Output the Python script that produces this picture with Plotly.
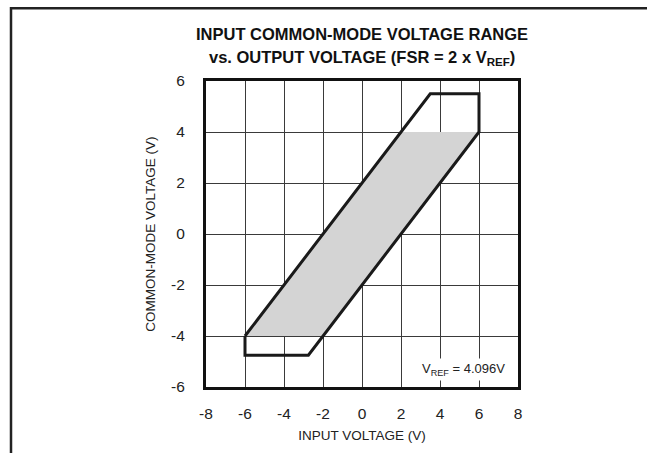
import plotly.graph_objects as go

# Outer boundary of the allowed common-mode range (closed polygon)
outline_x = [-6, 3.5, 6, 6, -2.75, -6, -6]
outline_y = [-4, 5.5, 5.5, 4, -4.75, -4.75, -4]

# Shaded region: usable range for FSR = 2 x VREF
fill_x = [-6, 2, 6, -2, -6]
fill_y = [-4, 4, 4, -4, -4]

x_ticks = [-8, -6, -4, -2, 0, 2, 4, 6, 8]
y_ticks = [-6, -4, -2, 0, 2, 4, 6]

FONT = "Liberation Sans, Arial, sans-serif"
W, H = 647, 453
ML, MR, MT, MB = 206, 129, 81, 61

fig = go.Figure()
fig.add_trace(go.Scatter(
    x=fill_x, y=fill_y, mode="lines", fill="toself",
    fillcolor="#d4d4d4", line=dict(width=0), hoverinfo="skip",
))
fig.add_trace(go.Scatter(
    x=outline_x, y=outline_y, mode="lines",
    line=dict(color="#1a1a1a", width=3), hoverinfo="skip",
))

axis_common = dict(
    showgrid=True, gridcolor="#3a3a3a", gridwidth=1.2,
    zeroline=False, showline=True, linecolor="#111111", linewidth=3,
    mirror=True, ticks="", tickfont=dict(family=FONT, size=15.5, color="#222"),
    title_font=dict(family=FONT, size=13.5, color="#222"),
    fixedrange=True,
)

fig.update_xaxes(range=[-8, 8], tickvals=x_ticks, ticktext=[str(v) for v in x_ticks],
                 ticklabelstandoff=10,
                 title_text="INPUT VOLTAGE (V)", title_standoff=10, **axis_common)
fig.update_yaxes(range=[-6, 6], tickvals=y_ticks, ticktext=[str(v) for v in y_ticks],
                 ticklabelstandoff=15,
                 title_text="COMMON-MODE VOLTAGE (V)", title_standoff=13, **axis_common)

def px_x(p):
    return (p - ML) / (W - ML - MR)

def px_y(p):
    return (H - MB - p) / (H - MT - MB)

# Open frame around the figure (left and top edges)
fig.add_shape(
    type="path", xref="paper", yref="paper",
    path=f"M {px_x(11)} {px_y(460)} L {px_x(11)} {px_y(7)} L {px_x(660)} {px_y(7)}",
    line=dict(color="#222222", width=2.5), layer="above",
)

# Two-line bold heading
title_lines = [
    "INPUT COMMON-MODE VOLTAGE RANGE",
    "vs. OUTPUT VOLTAGE (FSR = 2 x V<sub>REF</sub>)",
]
for line, ypx in zip(title_lines, [33, 58]):
    fig.add_annotation(
        x=px_x(362), y=px_y(ypx), xref="paper", yref="paper",
        xanchor="center", yanchor="middle", showarrow=False,
        text=f"<b>{line}</b>",
        font=dict(family=FONT, size=16.5, color="#111"),
    )

fig.add_annotation(
    x=7.5, y=-5.32, xref="x", yref="y", xanchor="right", yanchor="middle",
    text="V<sub>REF</sub> = 4.096V", showarrow=False,
    font=dict(family=FONT, size=13, color="#222"),
    bgcolor="white", borderpad=2,
)

fig.update_layout(
    width=W, height=H,
    margin=dict(l=ML, r=MR, t=MT, b=MB),
    paper_bgcolor="white", plot_bgcolor="white",
    showlegend=False,
)

fig.write_html("out.html")
